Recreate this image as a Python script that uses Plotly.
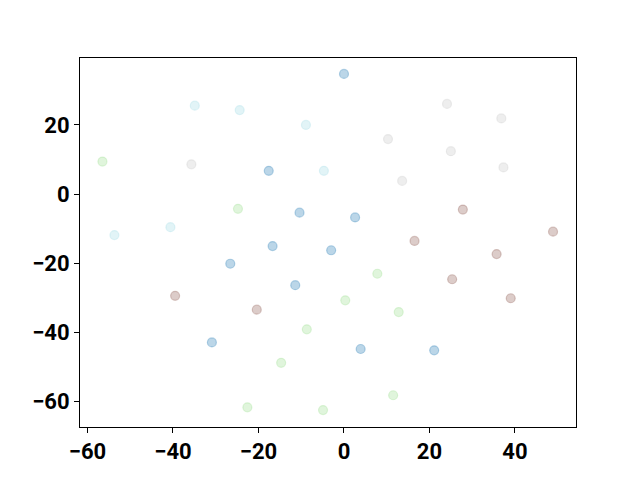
import plotly.graph_objects as go

blue_x = [0.0, -17.6, -10.4, 2.6, -16.7, -3.0, -26.6, -11.4, -30.9, 3.9, 21.1]
blue_y = [34.8, 6.7, -5.4, -6.8, -15.1, -16.3, -20.2, -26.4, -43.0, -44.9, -45.3]

cyan_x = [-34.9, -24.4, -8.9, -4.7, -40.6, -53.7]
cyan_y = [25.6, 24.3, 20.0, 6.7, -9.6, -11.9]

green_x = [-56.5, -24.8, 7.8, 0.3, 12.8, -8.7, -14.7, 11.5, -22.6, -4.9]
green_y = [9.4, -4.3, -23.1, -30.8, -34.2, -39.2, -48.9, -58.3, -61.8, -62.6]

gray_x = [-35.7, 24.1, 36.8, 10.3, 25.0, 37.3, 13.6]
gray_y = [8.6, 26.1, 21.9, 15.9, 12.4, 7.7, 3.8]

brown_x = [27.8, 48.9, 16.5, 35.7, 25.3, 39.0, -39.5, -20.4]
brown_y = [-4.5, -10.9, -13.6, -17.4, -24.7, -30.2, -29.5, -33.5]

x_ticks = [-60, -40, -20, 0, 20, 40]
y_ticks = [-60, -40, -20, 0, 20]
tick_text_x = ["\u221260", "\u221240", "\u221220", "0", "20", "40"]
tick_text_y = ["\u221260", "\u221240", "\u221220", "0", "20"]

groups = [
    (blue_x, blue_y, (31, 119, 180)),
    (cyan_x, cyan_y, (158, 218, 229)),
    (green_x, green_y, (152, 223, 138)),
    (gray_x, gray_y, (199, 199, 199)),
    (brown_x, brown_y, (140, 86, 75)),
]

fig = go.Figure()
for gx, gy, (r, g, b) in groups:
    fig.add_trace(go.Scatter(
        x=gx, y=gy, mode="markers",
        marker=dict(size=9, color=f"rgba({r},{g},{b},0.3)",
                    line=dict(width=1.2, color=f"rgba({r},{g},{b},0.3)")),
        showlegend=False, hoverinfo="skip"))

axis_common = dict(showgrid=False, zeroline=False, showline=True, linecolor="black",
                   linewidth=1, mirror=True, ticks="outside", ticklen=5, tickwidth=1,
                   tickcolor="black",
                   tickfont=dict(family="Roboto", size=22, color="black", weight="bold"))

fig.update_layout(
    width=640, height=480,
    margin=dict(l=72, r=72, t=50, b=61),
    plot_bgcolor="white", paper_bgcolor="white",
    xaxis=dict(range=[-61.75, 54.27], tickvals=x_ticks, ticktext=tick_text_x, **axis_common),
    yaxis=dict(range=[-67.5, 39.4], tickvals=y_ticks, ticktext=tick_text_y, **axis_common),
)

fig.write_html("out.html")
